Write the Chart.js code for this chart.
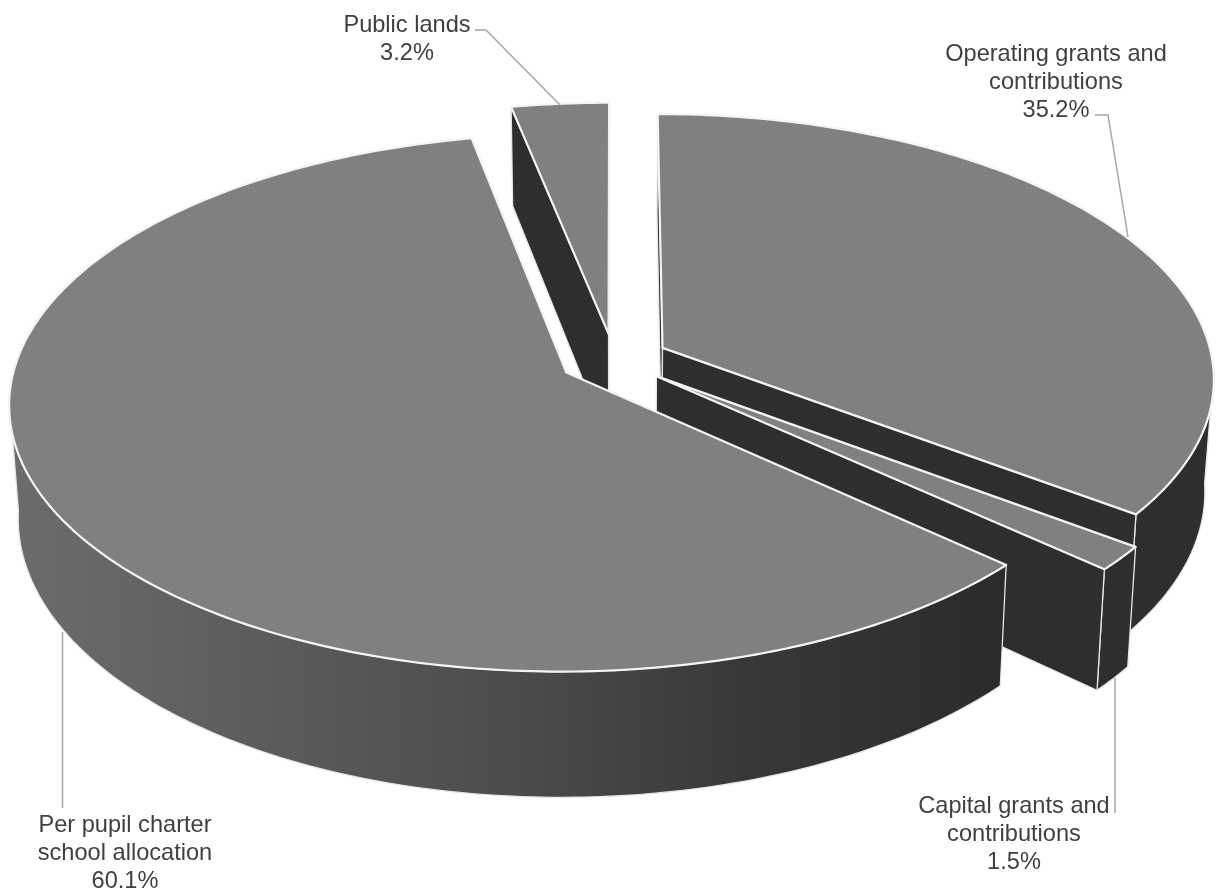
<!DOCTYPE html>
<html>
<head>
<meta charset="utf-8">
<style>
  html, body { margin: 0; padding: 0; background: #fff; }
  canvas { display: block; }
</style>
<script src="https://cdn.jsdelivr.net/npm/chart.js@4"></script>
</head>
<body>
<canvas id="chart" width="1218" height="890"></canvas>
<script>
// Revenue shares, clockwise from twelve o'clock
const categories = [
  'Operating grants and contributions',
  'Capital grants and contributions',
  'Per pupil charter school allocation',
  'Public lands'
];
const shares = [35.2, 1.5, 60.1, 3.2];
const labelLines = [
  ['Operating grants and', 'contributions'],
  ['Capital grants and', 'contributions'],
  ['Per pupil charter', 'school allocation'],
  ['Public lands']
];

// Painter's order: far slices first
const drawOrder = [3, 0, 1, 2];

const TOP_GREY = '#808080';
const WALL_DARK = '#2e2e2e';
const EDGE = '#e6e6e6';
const LEADER = '#a6a6a6';
const TEXT = '#404040';

// Camera used to tilt the flat pie into a thick disc
const view = { cx: 614, cy: 359.5, rx: 550, ry: 262.5, depth: 111, persp: 0.112, taper: 0.985 };

function project(u, v, z) {
  const s = 1 / (1 - view.persp * v);
  let x = view.rx * u * s;
  let y = view.ry * v * s;
  if (z) { x *= view.taper; y += view.depth * s; }
  return [view.cx + x, view.cy + y];
}

function paint(ctx, pts, fill, edge, width) {
  ctx.beginPath();
  pts.forEach((p, i) => i ? ctx.lineTo(p[0], p[1]) : ctx.moveTo(p[0], p[1]));
  ctx.closePath();
  ctx.fillStyle = fill;
  ctx.fill();
  ctx.strokeStyle = edge;
  ctx.lineWidth = width;
  ctx.lineJoin = 'round';
  ctx.stroke();
}

function sideShade(ctx) {
  const g = ctx.createLinearGradient(10, 0, 1005, 0);
  g.addColorStop(0, '#6c6c6c');
  g.addColorStop(0.25, '#5c5c5c');
  g.addColorStop(0.5, '#4c4c4c');
  g.addColorStop(0.75, '#373737');
  g.addColorStop(1, '#2b2b2b');
  return g;
}

function drawSlice(ctx, arc, index) {
  const p = arc.getProps(['startAngle', 'endAngle', 'outerRadius']);
  const mid = (p.startAngle + p.endAngle) / 2;
  const shift = arc.options.offset / p.outerRadius;
  const ax = Math.cos(mid) * shift;
  const ay = Math.sin(mid) * shift;
  const steps = Math.max(8, Math.ceil((p.endAngle - p.startAngle) * 60));
  const rim = [];
  const nearRim = [];
  for (let i = 0; i <= steps; i++) {
    const a = p.startAngle + (p.endAngle - p.startAngle) * i / steps;
    const q = [ax + Math.cos(a), ay + Math.sin(a)];
    rim.push(q);
    if (Math.sin(a) >= 0.08) nearRim.push(q);
  }
  const first = rim[0];
  const last = rim[rim.length - 1];

  // Curved wall on the viewer's side only
  if (nearRim.length > 1) {
    const wall = nearRim.map(q => project(q[0], q[1], 0))
      .concat(nearRim.slice().reverse().map(q => project(q[0], q[1], 1)));
    paint(ctx, wall, index === 2 ? sideShade(ctx) : WALL_DARK, EDGE, 1.3);
  }

  // A cut face shows only when the drop from its edge falls outside the top
  const apexTop = project(ax, ay, 0);
  const faceShows = (e, sign) => (project(e[0], e[1], 0)[0] - apexTop[0]) * sign > 0;
  [[first, -1], [last, 1]].forEach(([e, sign]) => {
    if (faceShows(e, sign)) {
      paint(ctx, [
        apexTop, project(e[0], e[1], 0),
        project(e[0], e[1], 1), project(ax, ay, 1)
      ], WALL_DARK, EDGE, 1.3);
    }
  });

  const top = [apexTop].concat(rim.map(q => project(q[0], q[1], 0)));
  paint(ctx, top, arc.options.backgroundColor, arc.options.borderColor, 2.2);
}

// Text block and leader for each slice
const labelPlacement = [
  { x: 1056, y: 61, leader: [[1095, 115], [1108, 115], [1128, 237]] },
  { x: 1014, y: 813, leader: [[1115, 813], [1115, 678]] },
  { x: 125, y: 832, leader: [[62.5, 808], [62.5, 632]] },
  { x: 407, y: 32, leader: [[475, 30], [486, 30], [560, 105]] }
];

function drawLabels(ctx) {
  ctx.font = '23.6px "Liberation Sans", Arial, sans-serif';
  ctx.textAlign = 'center';
  ctx.textBaseline = 'alphabetic';
  labelPlacement.forEach((spot, i) => {
    ctx.beginPath();
    spot.leader.forEach((q, j) => j ? ctx.lineTo(q[0], q[1]) : ctx.moveTo(q[0], q[1]));
    ctx.strokeStyle = LEADER;
    ctx.lineWidth = 1.5;
    ctx.stroke();
    ctx.fillStyle = TEXT;
    const lines = labelLines[i].concat(shares[i].toFixed(1) + '%');
    lines.forEach((t, j) => ctx.fillText(t, spot.x, spot.y + j * 28));
  });
}

const tiltedPie = {
  id: 'tiltedPie',
  beforeDatasetsDraw(chart) {
    const ctx = chart.ctx;
    const arcs = chart.getDatasetMeta(0).data;
    ctx.save();
    drawOrder.forEach(i => drawSlice(ctx, arcs[i], i));
    drawLabels(ctx);
    ctx.restore();
    return false;
  }
};

new Chart(document.getElementById('chart'), {
  type: 'pie',
  data: {
    labels: categories,
    datasets: [{
      data: shares,
      backgroundColor: TOP_GREY,
      borderColor: '#f4f4f4',
      borderWidth: 1,
      offset: 42
    }]
  },
  options: {
    responsive: false,
    animation: false,
    layout: { padding: 0 },
    plugins: { legend: { display: false }, tooltip: { enabled: false } }
  },
  plugins: [tiltedPie]
});
</script>
</body>
</html>
